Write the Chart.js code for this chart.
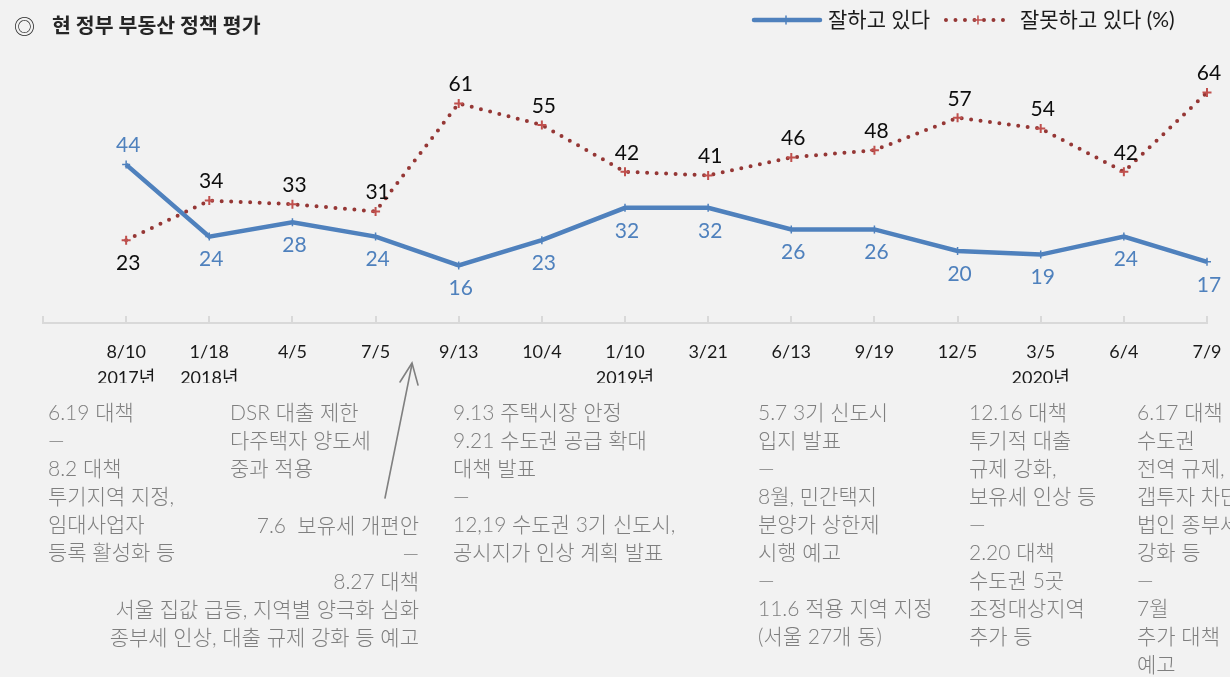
<!DOCTYPE html>
<html lang="ko">
<head>
<meta charset="utf-8">
<script src="https://cdn.jsdelivr.net/npm/chart.js@4"></script>
<style>
  html, body { margin: 0; padding: 0; background: #f2f2f2; }
  body { width: 1230px; height: 677px; position: relative; overflow: hidden;
         font-family: "Lato", "Noto Sans CJK KR", sans-serif; }
  #wrap { position: absolute; left: 0; top: 0; width: 1230px; height: 677px; }
  .title { position: absolute; left: 14px; top: 10px; font-size: 20.5px; line-height: 30px;
           color: #262626; white-space: nowrap; }
  .title span { font-family: "Noto Sans CJK KR", sans-serif; font-size: 21px; }
  .title b { position: absolute; left: 38px; top: 0; }
  .note { position: absolute; font-size: 21px; line-height: 28px; color: #7f7f7f;
          white-space: nowrap; font-weight: 300; }
  .right { text-align: right; }
  svg { position: absolute; left: 0; top: 0; }
</style>
</head>
<body>
<div id="wrap"><canvas id="chart"></canvas></div>
<div class="title"><span>◎</span><b>현 정부 부동산 정책 평가</b></div>

<div class="note" style="left:48px; top:398px;">6.19 대책<br>—<br>8.2 대책<br>투기지역 지정,<br>임대사업자<br>등록 활성화 등</div>
<div class="note" style="left:230px; top:398px;">DSR 대출 제한<br>다주택자 양도세<br>중과 적용</div>
<div class="note right" style="right:811px; top:511px;">7.6&nbsp; 보유세 개편안<br>—<br>8.27 대책<br>서울 집값 급등, 지역별 양극화 심화<br>종부세 인상, 대출 규제 강화 등 예고</div>
<div class="note" style="left:453px; top:398px;">9.13 주택시장 안정<br>9.21 수도권 공급 확대<br>대책 발표<br>—<br>12,19 수도권 3기 신도시,<br>공시지가 인상 계획 발표</div>
<div class="note" style="left:758px; top:398px;">5.7 3기 신도시<br>입지 발표<br>—<br>8월, 민간택지<br>분양가 상한제<br>시행 예고<br>—<br>11.6 적용 지역 지정<br>(서울 27개 동)</div>
<div class="note" style="left:969px; top:398px;">12.16 대책<br>투기적 대출<br>규제 강화,<br>보유세 인상 등<br>—<br>2.20 대책<br>수도권 5곳<br>조정대상지역<br>추가 등</div>
<div class="note" style="left:1137px; top:398px;">6.17 대책<br>수도권<br>전역 규제,<br>갭투자 차단<br>법인 종부세<br>강화 등<br>—<br>7월<br>추가 대책<br>예고</div>

<svg width="1230" height="677">
  <g stroke="#808080" stroke-width="1.6" fill="none" stroke-linecap="round">
    <line x1="385" y1="498" x2="412" y2="364" />
    <polyline points="400,382 412,363 418,385" />
  </g>
</svg>

<script>
const GOOD_COLOR = "#4f81bd";
const BAD_COLOR = "#953735";
const BAD_MARK = "#c0504d";

const dates = ["8/10", "1/18", "4/5", "7/5", "9/13", "10/4", "1/10", "3/21", "6/13", "9/19", "12/5", "3/5", "6/4", "7/9"];
const years = ["2017년", "2018년", "", "", "", "", "2019년", "", "", "", "", "2020년", "", ""];
const goodValues = [44, 24, 28, 24, 16, 23, 32, 32, 26, 26, 20, 19, 24, 17];
const badValues = [23, 34, 33, 31, 61, 55, 42, 41, 46, 48, 57, 54, 42, 64];
const seriesNames = ["잘하고 있다", "잘못하고 있다 (%)"];

// leading empty category gives the axis its stub on the left
const labels = [""].concat(dates.map((d, i) => (years[i] ? [d, years[i]] : d)));

Chart.defaults.font.family = '"Lato", "Noto Sans CJK KR", sans-serif';

const tickMarks = {
  id: "tickMarks",
  afterDraw(chart) {
    const x = chart.scales.x;
    const ctx = chart.ctx;
    const y0 = chart.chartArea.bottom;
    ctx.save();
    ctx.strokeStyle = "#d9d9d9";
    ctx.lineWidth = 2;
    x.ticks.forEach((t, i) => {
      const px = Math.round(x.getPixelForTick(i));
      ctx.beginPath();
      ctx.moveTo(px, y0);
      ctx.lineTo(px, y0 - 7);
      ctx.stroke();
    });
    ctx.restore();
  },
};

const valueLabels = {
  id: "valueLabels",
  afterDatasetsDraw(chart) {
    const ctx = chart.ctx;
    const ds = chart.data.datasets;
    ctx.save();
    ctx.font = "21px " + Chart.defaults.font.family;
    ctx.textAlign = "center";
    ctx.textBaseline = "middle";
    ds.forEach((d, di) => {
      const other = ds[1 - di].data;
      chart.getDatasetMeta(di).data.forEach((pt, i) => {
        const v = d.data[i];
        if (v == null) return;
        const above = v >= other[i];
        ctx.fillStyle = d.labelColor;
        ctx.fillText(String(v), pt.x + 2, pt.y + (above ? -19 : 23));
      });
    });
    ctx.restore();
  },
};

const legendLine = {
  id: "legendLine",
  afterDraw(chart) {
    const ctx = chart.ctx;
    let x = 752;
    const y = 20;
    ctx.save();
    ctx.font = "21px " + Chart.defaults.font.family;
    ctx.textBaseline = "middle";
    chart.data.datasets.forEach((d) => {
      const w = 68;
      ctx.strokeStyle = d.borderColor;
      ctx.lineWidth = d.borderWidth;
      ctx.lineCap = "round";
      ctx.setLineDash(d.borderDash || []);
      ctx.beginPath();
      ctx.moveTo(x + 2, y);
      ctx.lineTo(x + w, y);
      ctx.stroke();
      ctx.setLineDash([]);
      ctx.strokeStyle = d.pointBorderColor;
      ctx.lineWidth = 1.5;
      ctx.beginPath();
      ctx.moveTo(x + w / 2 - 4, y);
      ctx.lineTo(x + w / 2 + 4, y);
      ctx.moveTo(x + w / 2, y - 4);
      ctx.lineTo(x + w / 2, y + 4);
      ctx.stroke();
      ctx.fillStyle = "#1a1a1a";
      ctx.fillText(d.label, x + w + 8, y);
      x += w + 8 + ctx.measureText(d.label).width + 14;
    });
    ctx.restore();
  },
};

new Chart(document.getElementById("chart"), {
  type: "line",
  data: {
    labels: labels,
    datasets: [
      {
        label: seriesNames[0],
        data: [null].concat(goodValues),
        borderColor: GOOD_COLOR,
        borderWidth: 4.5,
        pointStyle: "cross",
        pointRadius: 4,
        pointBorderWidth: 1.5,
        pointBorderColor: GOOD_COLOR,
        labelColor: GOOD_COLOR,
        tension: 0,
        order: 2,
      },
      {
        label: seriesNames[1],
        data: [null].concat(badValues),
        borderColor: BAD_COLOR,
        borderWidth: 4,
        borderDash: [0, 9.5],
        borderCapStyle: "round",
        pointStyle: "cross",
        pointRadius: 4.5,
        pointBorderWidth: 2,
        pointBorderColor: BAD_MARK,
        labelColor: "#0d0d0d",
        tension: 0,
        order: 1,
      },
    ],
  },
  options: {
    responsive: true,
    maintainAspectRatio: false,
    animation: false,
    layout: { padding: { left: 43, right: 23, top: 71, bottom: 294 } },
    plugins: { legend: { display: false }, tooltip: { enabled: false } },
    scales: {
      x: {
        offset: false,
        grid: { display: false, drawTicks: false },
        border: { display: true, color: "#d9d9d9", width: 2 },
        ticks: {
          autoSkip: false,
          maxRotation: 0,
          padding: 16,
          color: "#1a1a1a",
          font: { size: 18, lineHeight: 1.45 },
        },
        afterFit: (scale) => {
          scale.height = 60;
          scale.paddingLeft = 0;
          scale.paddingRight = 0;
        },
      },
      y: { display: false, min: 0, max: 70 },
    },
  },
  plugins: [tickMarks, valueLabels, legendLine],
});
</script>
</body>
</html>
